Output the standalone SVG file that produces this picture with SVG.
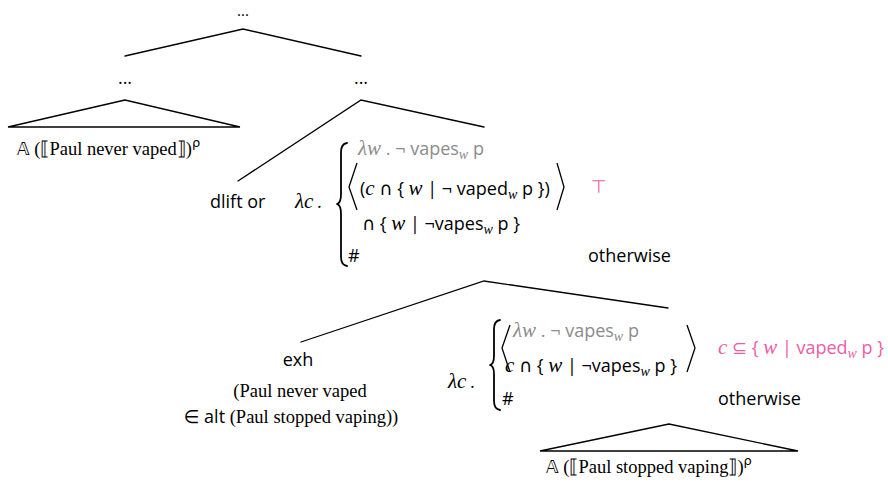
<svg xmlns="http://www.w3.org/2000/svg" width="888" height="483" viewBox="0 0 888 483">
<style>
.l{stroke:#000;stroke-width:1.3;fill:none;stroke-linecap:round}
.b{stroke:#000;stroke-width:1.8;fill:none;stroke-linecap:round;stroke-linejoin:round}
.a{stroke:#000;stroke-width:1.3;fill:none;stroke-linejoin:miter}
text{fill:#000}
.s{font-family:"Open Sans","DejaVu Sans",sans-serif;font-size:18px}
.r{font-family:"Liberation Serif","DejaVu Serif",serif;font-size:18.5px}
.i{font-family:"Liberation Serif","DejaVu Serif",serif;font-style:italic;font-size:21px}
.bb{font-family:"DejaVu Sans",sans-serif;font-size:17px}
.sup{font-family:"DejaVu Sans",sans-serif;font-size:13px}
.sub{font-size:14px}
.g{fill:#8c8c8c}
.p{fill:#ee5ca6}
.m{text-anchor:middle}
</style>
<rect width="888" height="483" fill="#fff"/>

<g id="connectors">
  <polyline class="l" points="125,56 243,29 361,56"/>
  <polyline class="l" points="238,181 361,100 484,127"/>
  <polyline class="l" points="301,342 484,281 668,308"/>
</g>

<g id="root">
  <text class="s m" x="243" y="16" style="font-size:15px">...</text>
</g>

<g id="left">
  <text class="s m" x="125" y="84">...</text>
  <polygon class="l" points="125,100 8,127 240,127"/>
  <text class="r" x="17" y="155"><tspan class="bb">𝔸</tspan> (⟦Paul never vaped⟧)<tspan class="sup" dy="-8">ρ</tspan></text>
</g>

<g id="right">
  <text class="s m" x="361" y="84">...</text>
</g>

<g id="dlift">
  <text class="s" x="210" y="208">dlift or</text>
</g>

<g id="lambda1">
  <text class="i" x="295" y="208">λc<tspan class="s"> .</tspan></text>
  <path class="b" d="M347,143 Q341,144 341,152 L341,194 Q341,203 337,204 Q341,205 341,214 L341,257 Q341,265 347,266"/>
  <polyline class="a" points="357,163 349,187 357,210"/>
  <polyline class="a" points="557,163 564,187 557,210"/>
  <text class="s g" x="358" y="155"><tspan class="i g">λw</tspan> . ¬ vapes<tspan class="i sub g" dy="4">w</tspan><tspan dy="-4"> p</tspan></text>
  <text class="s" x="360" y="195">(<tspan class="i">c</tspan> ∩ { <tspan class="i">w</tspan> | ¬ vaped<tspan class="i sub" dy="4">w</tspan><tspan dy="-4"> p })</tspan></text>
  <text class="s p" x="591" y="193">⊤</text>
  <text class="s" x="362" y="230">∩ { <tspan class="i">w</tspan> | ¬vapes<tspan class="i sub" dy="4">w</tspan><tspan dy="-4"> p }</tspan></text>
  <text class="s" x="348" y="262">#</text>
  <text class="s" x="588" y="262">otherwise</text>
</g>

<g id="exh">
  <text class="s m" x="298" y="366">exh</text>
  <text class="r m" x="300" y="397">(Paul never vaped</text>
  <text class="r m" x="291" y="423"><tspan class="s">∈ alt</tspan> (Paul stopped vaping))</text>
</g>

<g id="lambda2">
  <text class="i" x="448" y="388">λc<tspan class="s"> .</tspan></text>
  <path class="b" d="M500,320 Q494,321 494,329 L494,356 Q494,364 490,365 Q494,366 494,374 L494,401 Q494,409 500,410"/>
  <polyline class="a" points="510,325 502,348 510,372"/>
  <polyline class="a" points="687,325 695,348 687,372"/>
  <text class="s g" x="513" y="337"><tspan class="i g">λw</tspan> . ¬ vapes<tspan class="i sub g" dy="4">w</tspan><tspan dy="-4"> p</tspan></text>
  <text class="s" x="505" y="372"><tspan class="i">c</tspan> ∩ { <tspan class="i">w</tspan> | ¬vapes<tspan class="i sub" dy="4">w</tspan><tspan dy="-4"> p }</tspan></text>
  <text class="s p" x="718" y="354"><tspan class="i p">c</tspan> ⊆ { <tspan class="i p">w</tspan> | vaped<tspan class="i sub p" dy="4">w</tspan><tspan dy="-4"> p }</tspan></text>
  <text class="s" x="502" y="405">#</text>
  <text class="s" x="718" y="405">otherwise</text>
</g>

<g id="stopped">
  <polygon class="l" points="669,424 540,451 798,451"/>
  <text class="r" x="546" y="473"><tspan class="bb">𝔸</tspan> (⟦Paul stopped vaping⟧)<tspan class="sup" dy="-8">ρ</tspan></text>
</g>
</svg>
